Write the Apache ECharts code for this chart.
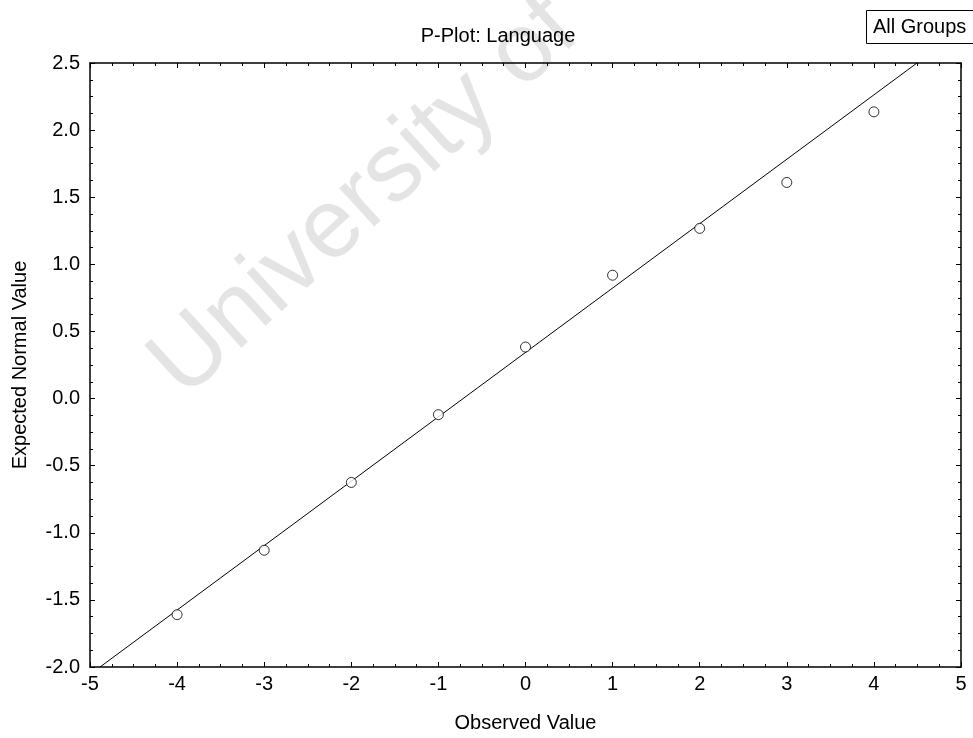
<!DOCTYPE html>
<html>
<head>
<meta charset="utf-8">
<script src="https://cdn.jsdelivr.net/npm/echarts@6/dist/echarts.min.js"></script>
<style>
  html, body { margin: 0; padding: 0; background: #fff; }
  #chart { width: 973px; height: 738px; }
</style>
</head>
<body>
<div id="chart"></div>
<script>
// Observed values and their expected normal scores
const observed = [-4, -3, -2, -1, 0, 1, 2, 3, 4];
const expected = [-1.61, -1.13, -0.625, -0.12, 0.384, 0.919, 1.268, 1.61, 2.136];

// Reference (fitted) line endpoints
const lineX = [-4.885, 4.495];
const lineY = [-2.0, 2.5];

const titleText = 'P-Plot: Language';
const groupText = 'All Groups';
const xName = 'Observed Value';
const yName = 'Expected Normal Value';
const watermark = 'University of';

const FONT = '"Liberation Sans", Arial, sans-serif';

const chart = echarts.init(document.getElementById('chart'), null, { renderer: 'canvas' });

const tickStyle = { show: true, inside: true, length: 5, lineStyle: { color: '#000', width: 1 } };
const minorStyle = { show: true, splitNumber: 4, length: 3, lineStyle: { color: '#000', width: 1 } };
const lineStyleAxis = { show: true, onZero: false, lineStyle: { color: '#000', width: 1.5 } };
const labelStyle = { color: '#000', fontFamily: FONT, fontSize: 20 };

const option = {
  backgroundColor: '#fff',
  animation: false,
  graphic: [
    {
      type: 'text',
      z: -10,
      x: 166, y: 380,
      rotation: 0.74,
      style: {
        text: watermark,
        font: '98px "Liberation Sans", Arial, sans-serif',
        fill: '#e4e4e4',
        textVerticalAlign: 'middle'
      }
    },
    {
      type: 'rect',
      z: 10,
      shape: { x: 866.5, y: 10.5, width: 110, height: 33 },
      style: { fill: '#fff', stroke: '#000', lineWidth: 1 }
    },
    {
      type: 'text',
      z: 11,
      x: 873, y: 27,
      style: {
        text: groupText,
        font: '20px "Liberation Sans", Arial, sans-serif',
        fill: '#000',
        textVerticalAlign: 'middle'
      }
    }
  ],
  title: {
    text: titleText,
    left: 493, top: 21,
    textAlign: 'center',
    textStyle: { fontFamily: FONT, fontSize: 20, fontWeight: 'normal', color: '#000' }
  },
  grid: { left: 90, right: 12, top: 63, bottom: 69 },
  xAxis: [
    {
      type: 'value', min: -5, max: 5, interval: 1,
      name: xName, nameLocation: 'middle', nameGap: 46,
      nameTextStyle: { color: '#000', fontFamily: FONT, fontSize: 20 },
      axisLine: lineStyleAxis, axisTick: tickStyle, minorTick: minorStyle,
      splitLine: { show: false },
      axisLabel: Object.assign({ margin: 7 }, labelStyle)
    },
    {
      type: 'value', position: 'top', min: -5, max: 5, interval: 1,
      axisLine: lineStyleAxis, axisTick: tickStyle, minorTick: minorStyle,
      splitLine: { show: false }, axisLabel: { show: false }
    }
  ],
  yAxis: [
    {
      type: 'value', min: -2, max: 2.5, interval: 0.5,
      name: yName, nameLocation: 'middle', nameGap: 60,
      nameTextStyle: { color: '#000', fontFamily: FONT, fontSize: 20 },
      axisLine: lineStyleAxis, axisTick: tickStyle, minorTick: minorStyle,
      splitLine: { show: false },
      axisLabel: Object.assign({ margin: 10, formatter: v => v.toFixed(1) }, labelStyle)
    },
    {
      type: 'value', position: 'right', min: -2, max: 2.5, interval: 0.5,
      axisLine: lineStyleAxis, axisTick: tickStyle, minorTick: minorStyle,
      splitLine: { show: false }, axisLabel: { show: false }
    }
  ],
  series: [
    {
      type: 'line',
      data: lineX.map((x, i) => [x, lineY[i]]),
      showSymbol: false,
      symbol: 'none',
      lineStyle: { color: '#000', width: 1 },
      z: 2
    },
    {
      type: 'scatter',
      data: observed.map((x, i) => [x, expected[i]]),
      symbol: 'circle',
      symbolSize: 10,
      itemStyle: { color: '#fff', borderColor: '#000', borderWidth: 1 },
      z: 3
    }
  ]
};

chart.setOption(option);
</script>
</body>
</html>
